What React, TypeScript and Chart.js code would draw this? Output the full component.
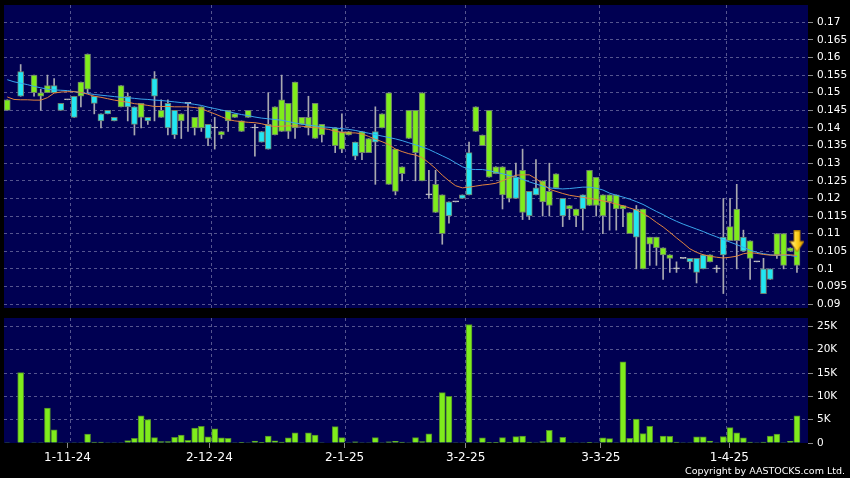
import React, { useEffect, useRef } from 'react';
import { Chart, registerables } from 'chart.js';

Chart.register(...registerables);

// ---------- data ----------
const tickLabels = ['1-11-24', '2-12-24', '2-1-25', '3-2-25', '3-3-25', '1-4-25'];
const tickDays = [9, 30.2, 50.4, 68.5, 88.7, 107.9];
const gridDays = [9.4, 30.5, 50.6, 68.5, 88.5, 107.5];
const priceTicks = [0.09, 0.095, 0.1, 0.105, 0.11, 0.115, 0.12, 0.125, 0.13, 0.135, 0.14, 0.145, 0.15, 0.155, 0.16, 0.165, 0.17];
const volumeTicks = [0, 5000, 10000, 15000, 20000, 25000];

const open = [
  0.148, null, 0.149, null, 0.155, 0.150, 0.152, 0.150, 0.145, 0.148,
  0.143, 0.153, 0.161, 0.147, 0.142, 0.144, 0.142, 0.152, 0.146, 0.141,
  0.147, 0.142, 0.149, 0.145, 0.140, 0.138, 0.144, 0.147, 0.143, 0.146,
  0.137, 0.140, 0.139, 0.145, 0.144, 0.142, 0.145, 0.140, 0.136, 0.134,
  0.146, 0.148, 0.147, 0.153, 0.143, 0.143, 0.147, 0.141, null, 0.140,
  0.139, 0.139, 0.132, 0.139, 0.137, 0.136, 0.144, 0.150, 0.134, 0.129,
  0.145, 0.145, 0.150, 0.121, 0.124, 0.121, 0.115, 0.119, 0.120, 0.121,
  0.146, 0.138, 0.145, 0.129, 0.129, 0.128, 0.120, 0.128, 0.115, 0.121,
  0.125, 0.122, 0.127, 0.115, 0.118, 0.117, 0.117, 0.128, 0.126, 0.121,
  0.121, 0.121, 0.118, 0.116, 0.109, 0.117, 0.109, 0.109, 0.106, 0.104,
  0.100, 0.103, 0.102, 0.099, 0.100, 0.104, 0.100, 0.104, 0.112, 0.117,
  0.105, 0.108, 0.102, 0.093, 0.097, 0.110, 0.110, 0.106, 0.106,
];
const high = [
  0.148, null, 0.158, null, 0.155, 0.151, 0.155, 0.154, 0.147, 0.148,
  0.149, 0.153, 0.161, 0.149, 0.144, 0.145, 0.143, 0.152, 0.150, 0.146,
  0.147, 0.143, 0.156, 0.148, 0.148, 0.145, 0.144, 0.147, 0.143, 0.146,
  0.141, 0.143, 0.139, 0.145, 0.144, 0.142, 0.145, 0.141, 0.139, 0.150,
  0.146, 0.155, 0.147, 0.153, 0.143, 0.149, 0.147, 0.141, null, 0.140,
  0.144, 0.139, 0.136, 0.139, 0.137, 0.146, 0.144, 0.150, 0.134, 0.129,
  0.145, 0.145, 0.150, 0.128, 0.128, 0.121, 0.119, 0.119, 0.121, 0.136,
  0.146, 0.138, 0.145, 0.129, 0.129, 0.128, 0.130, 0.134, 0.122, 0.131,
  0.125, 0.130, 0.127, 0.120, 0.118, 0.117, 0.121, 0.128, 0.126, 0.121,
  0.121, 0.121, 0.118, 0.116, 0.118, 0.117, 0.109, 0.109, 0.106, 0.104,
  0.102, 0.103, 0.103, 0.103, 0.104, 0.104, 0.101, 0.120, 0.120, 0.124,
  0.111, 0.108, 0.102, 0.103, 0.100, 0.110, 0.110, 0.106, 0.106,
];
const low = [
  0.145, null, 0.149, null, 0.149, 0.145, 0.150, 0.150, 0.145, 0.148,
  0.143, 0.146, 0.150, 0.144, 0.140, 0.144, 0.142, 0.146, 0.142, 0.138,
  0.140, 0.141, 0.142, 0.143, 0.138, 0.137, 0.137, 0.139, 0.138, 0.139,
  0.135, 0.134, 0.137, 0.139, 0.143, 0.139, 0.143, 0.132, 0.136, 0.134,
  0.138, 0.139, 0.137, 0.137, 0.141, 0.138, 0.137, 0.136, null, 0.133,
  0.133, 0.138, 0.131, 0.131, 0.133, 0.124, 0.140, 0.124, 0.121, 0.125,
  0.137, 0.125, 0.125, 0.120, 0.116, 0.107, 0.113, 0.119, 0.120, 0.121,
  0.139, 0.135, 0.126, 0.127, 0.117, 0.119, 0.120, 0.114, 0.114, 0.121,
  0.115, 0.115, 0.123, 0.112, 0.114, 0.112, 0.111, 0.118, 0.115, 0.110,
  0.111, 0.111, 0.112, 0.110, 0.100, 0.100, 0.101, 0.101, 0.097, 0.099,
  0.099, 0.103, 0.100, 0.096, 0.100, 0.102, 0.099, 0.093, 0.108, 0.100,
  0.105, 0.097, 0.102, 0.093, 0.097, 0.103, 0.100, 0.105, 0.099,
];
const close = [
  0.145, null, 0.156, null, 0.150, 0.149, 0.150, 0.152, 0.147, 0.148,
  0.149, 0.149, 0.151, 0.149, 0.144, 0.145, 0.143, 0.146, 0.149, 0.146,
  0.143, 0.143, 0.154, 0.143, 0.147, 0.145, 0.142, 0.147, 0.140, 0.140,
  0.141, 0.140, 0.138, 0.142, 0.143, 0.139, 0.143, 0.140, 0.139, 0.141,
  0.138, 0.139, 0.139, 0.140, 0.141, 0.140, 0.137, 0.138, null, 0.135,
  0.134, 0.138, 0.136, 0.133, 0.133, 0.139, 0.140, 0.124, 0.122, 0.127,
  0.137, 0.133, 0.125, 0.121, 0.116, 0.110, 0.119, 0.119, 0.121, 0.133,
  0.139, 0.135, 0.126, 0.127, 0.121, 0.120, 0.126, 0.116, 0.122, 0.123,
  0.119, 0.118, 0.123, 0.120, 0.117, 0.115, 0.121, 0.118, 0.118, 0.115,
  0.119, 0.117, 0.117, 0.110, 0.117, 0.100, 0.107, 0.106, 0.104, 0.103,
  0.100, 0.103, 0.103, 0.103, 0.104, 0.102, 0.100, 0.109, 0.108, 0.108,
  0.109, 0.103, 0.102, 0.100, 0.100, 0.104, 0.101, 0.105, 0.101,
];
const volume = [
  100, 0, 15100, 0, 100, 100, 7500, 2850, 100, 100,
  100, 100, 1900, 200, 200, 100, 100, 100, 500, 1000,
  5850, 5000, 1150, 300, 300, 1200, 1700, 550, 3200, 3550,
  1300, 3050, 1100, 1000, 100, 150, 100, 400, 150, 1500,
  450, 200, 1100, 2200, 100, 2200, 1700, 100, 0, 3500,
  1150, 100, 250, 100, 100, 1150, 100, 250, 350, 200,
  100, 1150, 300, 1950, 100, 10800, 10000, 100, 100, 25400,
  100, 1100, 150, 150, 1150, 200, 1350, 1500, 200, 100,
  300, 2700, 100, 1200, 100, 100, 100, 150, 100, 1100,
  950, 100, 17400, 1000, 5150, 2000, 3600, 100, 1500, 1450,
  200, 100, 100, 1300, 1300, 400, 100, 1400, 3300, 2200,
  1100, 200, 100, 200, 1500, 1900, 100, 350, 5850,
];
const maLong = [
  0.1537, 0.1531, 0.1527, 0.1523, 0.1518, 0.1514, 0.1510, 0.1508, 0.1507, 0.1506,
  0.1503, 0.1500, 0.1498, 0.1495, 0.1493, 0.1491, 0.1489, 0.1487, 0.1486, 0.1484,
  0.1482, 0.1481, 0.1479, 0.1478, 0.1476, 0.1474, 0.1472, 0.1470, 0.1467, 0.1464,
  0.1459, 0.1455, 0.1451, 0.1447, 0.1442, 0.1438, 0.1435, 0.1431, 0.1428, 0.1426,
  0.1424, 0.1422, 0.1418, 0.1414, 0.1411, 0.1408, 0.1406, 0.1403, 0.1402, 0.1400,
  0.1398, 0.1396, 0.1393, 0.1389, 0.1385, 0.1381, 0.1377, 0.1373, 0.1369, 0.1364,
  0.1358, 0.1352, 0.1346, 0.1339, 0.1330, 0.1321, 0.1312, 0.1301, 0.1290, 0.1283,
  0.1282, 0.1282, 0.1279, 0.1274, 0.1270, 0.1265, 0.1261, 0.1254, 0.1247, 0.1241,
  0.1235, 0.1230, 0.1228, 0.1227, 0.1228, 0.1230, 0.1232, 0.1232, 0.1229, 0.1224,
  0.1215, 0.1209, 0.1204, 0.1198, 0.1191, 0.1183, 0.1173, 0.1163, 0.1154, 0.1144,
  0.1135, 0.1127, 0.1120, 0.1113, 0.1106, 0.1098, 0.1091, 0.1083, 0.1076, 0.1069,
  0.1061, 0.1053, 0.1047, 0.1043, 0.1040, 0.1038, 0.1039, 0.1038, 0.1035,
];
const maShort = [
  0.1488, 0.1481, 0.1480, 0.1480, 0.1479, 0.1479, 0.1486, 0.1499, 0.1502, 0.1503,
  0.1503, 0.1501, 0.1496, 0.1490, 0.1487, 0.1483, 0.1479, 0.1476, 0.1473, 0.1469,
  0.1467, 0.1464, 0.1461, 0.1461, 0.1461, 0.1460, 0.1460, 0.1460, 0.1458, 0.1455,
  0.1447, 0.1440, 0.1432, 0.1424, 0.1420, 0.1418, 0.1416, 0.1415, 0.1412, 0.1407,
  0.1404, 0.1405, 0.1406, 0.1406, 0.1405, 0.1403, 0.1401, 0.1399, 0.1396, 0.1391,
  0.1387, 0.1386, 0.1386, 0.1383, 0.1376, 0.1368, 0.1361, 0.1353, 0.1340, 0.1333,
  0.1327, 0.1323, 0.1316, 0.1301, 0.1285, 0.1266, 0.1250, 0.1236, 0.1230, 0.1232,
  0.1235, 0.1238, 0.1240, 0.1243, 0.1250, 0.1258, 0.1266, 0.1267, 0.1267, 0.1256,
  0.1242, 0.1226, 0.1220, 0.1214, 0.1209, 0.1206, 0.1203, 0.1200, 0.1197, 0.1193,
  0.1189, 0.1184, 0.1179, 0.1173, 0.1167, 0.1158, 0.1146, 0.1132, 0.1119, 0.1104,
  0.1088, 0.1073, 0.1057, 0.1047, 0.1040, 0.1036, 0.1033, 0.1031, 0.1033, 0.1036,
  0.1043, 0.1046, 0.1044, 0.1041, 0.1039, 0.1039, 0.1040, 0.1040, 0.1038,
];
const signalDay = 118;
const signalPrice = 0.1078;

// ---------- style ----------
const NAVY = '#000052';
const GRID = '#55558f';
const TICK = '#8a8a8a';
const TEXT = '#ffffff';
const GREEN = '#7fec1c';
const CYAN = '#22e6f2';
const BODY_EDGE = '#6f7f6f';
const WICK = '#a8a8b0';
const DOJI = '#c8c8c8';
const BLUE_MA = '#3aa6ec';
const ORANGE_MA = '#e2843e';

const X_MIN = -0.49;
const X_MAX = 119.65;
const PRICE_MIN = 0.0889;
const PRICE_MAX = 0.1749;
const VOL_MAX = 26800;

const days = open.map((_, i) => i);

const plotBg = {
  id: 'plotBg',
  beforeDraw(chart: any) {
    const { ctx, chartArea: a } = chart;
    ctx.save();
    ctx.fillStyle = NAVY;
    ctx.fillRect(a.left, a.top, a.right - a.left, a.bottom - a.top);
    ctx.restore();
  },
};

const fixWidth = (w: number) => (s: any) => { s.width = w; s.paddingTop = 0; s.paddingBottom = 0; };
const fixHeight = (h: number) => (s: any) => { s.height = h; s.paddingLeft = 0; s.paddingRight = 0; };
const setTicks = (vals: number[]) => (s: any) => { s.ticks = vals.map((v) => ({ value: v })); };

function gridAxis() {
  return {
    type: 'linear',
    position: 'bottom',
    min: X_MIN,
    max: X_MAX,
    offset: false,
    afterBuildTicks: setTicks(gridDays),
    afterFit: fixHeight(0),
    ticks: { display: false },
    grid: { color: GRID, drawTicks: false, offset: false },
    border: { display: false, dash: [3, 3] },
  };
}

function makeArrow() {
  const c = document.createElement('canvas');
  c.width = 15;
  c.height = 22;
  const g = c.getContext('2d')!;
  const grad = g.createLinearGradient(0, 0, 15, 0);
  grad.addColorStop(0, '#fff6b0');
  grad.addColorStop(0.5, '#ffd21c');
  grad.addColorStop(1, '#d89800');
  g.beginPath();
  g.moveTo(4.5, 0.5);
  g.lineTo(10.5, 0.5);
  g.lineTo(10.5, 11);
  g.lineTo(14.5, 11);
  g.lineTo(7.5, 21.5);
  g.lineTo(0.5, 11);
  g.lineTo(4.5, 11);
  g.closePath();
  g.fillStyle = grad;
  g.fill();
  g.strokeStyle = '#b07a00';
  g.lineWidth = 1;
  g.stroke();
  return c;
}

const bodyColor = (ctx: any) => {
  const r = ctx.raw;
  if (!r) return GREEN;
  const [o, c] = r.y;
  return c > o ? CYAN : c < o ? GREEN : DOJI;
};
const bodyEdge = (ctx: any) => {
  const r = ctx.raw;
  if (r && r.y[0] === r.y[1]) return DOJI;
  return BODY_EDGE;
};

export default function App() {
  const priceRef = useRef<HTMLCanvasElement>(null);
  const volRef = useRef<HTMLCanvasElement>(null);

  useEffect(() => {
    document.body.style.margin = '0';
    document.body.style.background = '#000';
    Chart.defaults.font.family = "'DejaVu Sans', sans-serif";

    const live = days.filter((i) => open[i] != null);
    const wickData = live.map((i) => ({ x: i, y: [low[i], high[i]] }));
    const bodyData = live.map((i) => ({ x: i, y: [open[i], close[i]] }));
    const longData = days.map((i) => ({ x: i, y: maLong[i] }));
    const shortData = days.map((i) => ({ x: i, y: maShort[i] }));
    const volData = days.map((i) => ({ x: i, y: volume[i] }));

    const price = new Chart(priceRef.current!, {
      type: 'bar',
      data: {
        datasets: [
          { type: 'bar', data: wickData as any, backgroundColor: WICK, borderWidth: 0, barThickness: 1, grouped: false, order: 4 },
          {
            type: 'bar', data: bodyData as any, backgroundColor: bodyColor, borderColor: bodyEdge, borderWidth: 1,
            borderSkipped: false, barThickness: 6, minBarLength: 1, grouped: false, order: 3,
          },
          { type: 'line', data: longData as any, borderColor: BLUE_MA, borderWidth: 1, pointRadius: 0, tension: 0, order: 2 },
          { type: 'line', data: shortData as any, borderColor: ORANGE_MA, borderWidth: 1, pointRadius: 0, tension: 0, order: 1 },
          {
            type: 'line', data: [{ x: signalDay, y: signalPrice }] as any, showLine: false,
            pointStyle: makeArrow() as any, pointRadius: 1, order: 0,
          },
        ],
      } as any,
      options: {
        animation: false,
        responsive: false,
        events: [],
        layout: { autoPadding: false, padding: { left: 4, top: 5, right: 0, bottom: 4 } },
        plugins: { legend: { display: false }, tooltip: { enabled: false } },
        scales: {
          x: gridAxis(),
          y: {
            type: 'linear',
            position: 'right',
            min: PRICE_MIN,
            max: PRICE_MAX,
            afterBuildTicks: setTicks(priceTicks),
            afterFit: fixWidth(42),
            ticks: { color: TEXT, padding: 4, font: { size: 10.5 }, callback: (v: any) => String(+Number(v).toFixed(3)) },
            grid: { color: GRID, tickColor: TICK, tickLength: 5 },
            border: { display: false, dash: [3, 3] },
          },
        },
      } as any,
      plugins: [plotBg],
    });

    const vol = new Chart(volRef.current!, {
      type: 'bar',
      data: {
        datasets: [
          {
            type: 'bar', data: volData as any, backgroundColor: GREEN, borderColor: '#4f8a2a', borderWidth: 1,
            barThickness: 6, grouped: false,
          },
        ],
      } as any,
      options: {
        animation: false,
        responsive: false,
        events: [],
        layout: { autoPadding: false, padding: { left: 4, top: 6, right: 0, bottom: 0 } },
        plugins: { legend: { display: false }, tooltip: { enabled: false } },
        scales: {
          x: gridAxis(),
          xl: {
            type: 'linear',
            position: 'bottom',
            min: X_MIN,
            max: X_MAX,
            offset: false,
            afterBuildTicks: setTicks(tickDays),
            afterFit: fixHeight(35),
            ticks: {
              color: TEXT, padding: 3, font: { size: 12 }, autoSkip: false, maxRotation: 0,
              callback: (_v: any, i: number) => tickLabels[i],
            },
            grid: { drawOnChartArea: false, color: TICK, tickLength: 5, offset: false },
            border: { display: false },
          },
          y: {
            type: 'linear',
            position: 'right',
            min: 0,
            max: VOL_MAX,
            afterBuildTicks: setTicks(volumeTicks),
            afterFit: fixWidth(42),
            ticks: { color: TEXT, padding: 4, font: { size: 10.5 }, callback: (v: any) => (v === 0 ? '0' : v / 1000 + 'K') },
            grid: {
              color: (ctx: any) => (ctx.tick && ctx.tick.value === 0 ? 'rgba(0,0,0,0)' : GRID),
              tickColor: TICK,
              tickLength: 5,
            },
            border: { display: false, dash: [3, 3] },
          },
        },
      } as any,
      plugins: [plotBg],
    });

    return () => {
      price.destroy();
      vol.destroy();
    };
  }, []);

  return (
    <div style={{ position: 'fixed', left: 0, top: 0, width: 850, height: 478, background: '#000', overflow: 'hidden' }}>
      <canvas ref={priceRef} width={850} height={312} style={{ position: 'absolute', left: 0, top: 0 }} />
      <canvas ref={volRef} width={850} height={166} style={{ position: 'absolute', left: 0, top: 312 }} />
      <div
        style={{
          position: 'absolute', right: 5, top: 465, color: '#ffffff',
          font: "9.5px 'DejaVu Sans', sans-serif", lineHeight: '12px', whiteSpace: 'nowrap',
        }}
      >
        Copyright by AASTOCKS.com Ltd.
      </div>
    </div>
  );
}
